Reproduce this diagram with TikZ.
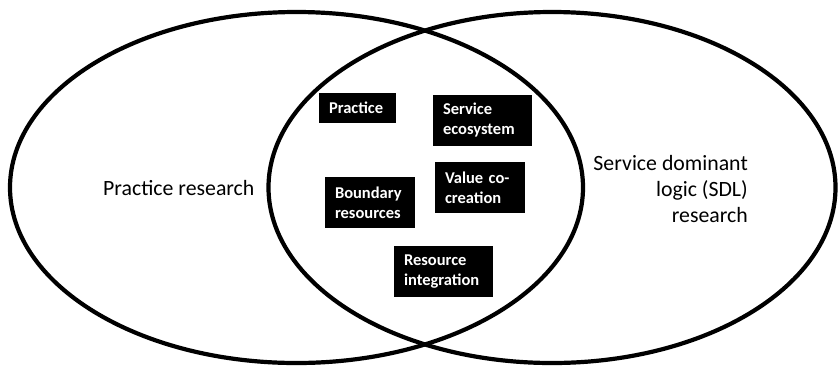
\documentclass[tikz,border=0pt]{standalone}
\usepackage{fontspec}
\setmainfont{Carlito}
\tikzset{concept/.style={rectangle,fill=black,text=white,align=left,inner xsep=10pt,inner ysep=0pt,
    font=\fontsize{16.5}{20}\selectfont\bfseries},
  field/.style={inner sep=0pt,font=\fontsize{21.8}{25.8}\selectfont}}

\begin{document}
\begin{tikzpicture}[x=1pt,y=-1pt]
      \useasboundingbox (0,0) rectangle (838,368);
      \draw[line width=4.2pt] (296.5,187.5) ellipse (286.5pt and 175.5pt);
      \draw[line width=4.2pt] (552,187.5) ellipse (283.5pt and 175.5pt);

      \node[field,anchor=base west] (PR) at (103,195) {Practice research};
      \node[field,anchor=east,align=right] (SDL) at (748,189) {Service dominant\\logic (SDL)\\research};

      \node[concept,text width=57pt,minimum height=30pt] (P) at (357.5,108) {Practice};
      \node[concept,text width=79pt,minimum height=51pt] (SE) at (482.5,120.5) {Service\\ecosystem};
      \node[concept,text width=70pt,minimum height=51pt] (VC) at (480,187.5) {Value co-\\creation};
      \node[concept,text width=70pt,minimum height=51pt] (BR) at (370,202.5) {Boundary\\resources};
      \node[concept,text width=79pt,minimum height=51pt] (RI) at (443.5,271.5) {Resource\\integration};
    \end{tikzpicture}
\end{document}
